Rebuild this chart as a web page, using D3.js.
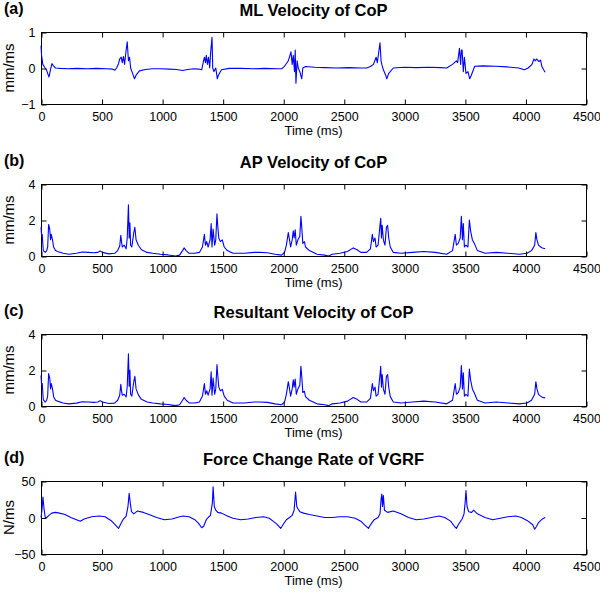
<!DOCTYPE html>
<html>
<head>
<meta charset="utf-8">
<script src="https://cdn.jsdelivr.net/npm/d3@7"></script>
<style>
  html, body { margin: 0; padding: 0; background: #fff; }
  svg { display: block; }
  text { font-family: "Liberation Sans", Arial, Helvetica, sans-serif; fill: #000; }
</style>
</head>
<body>
<svg id="chart" width="600" height="594"></svg>
<script>
// ---------------- DATA ----------------
const xTicks = [0, 500, 1000, 1500, 2000, 2500, 3000, 3500, 4000, 4500];
const xDomain = [0, 4500];
const xTitle = "Time (ms)";

const panelLabels = ["(a)", "(b)", "(c)", "(d)"];
const panelTitles = ["ML Velocity of CoP", "AP Velocity of CoP", "Resultant Velocity of CoP", "Force Change Rate of VGRF"];
const yTitles = ["mm/ms", "mm/ms", "mm/ms", "N/ms"];
const yDomains = [[-1, 1], [0, 4], [0, 4], [-50, 50]];
const yTicksList = [[-1, 0, 1], [0, 2, 4], [0, 2, 4], [-50, 0, 50]];

// (a) ML velocity of CoP
const mlTime = [0,5,15,30,45,55,66,78,90,105,120,160,220,300,380,460,540,590,610,624,640,650,662,671,681,690,703,712,722,731,740,756,772,785,813,860,920,986,1060,1120,1170,1210,1260,1300,1327,1333,1349,1358,1365,1374,1383,1393,1400,1412,1418,1428,1443,1456,1465,1490,1554,1650,1750,1850,1950,1990,2011,2042,2064,2074,2083,2093,2099,2105,2115,2124,2137,2153,2162,2184,2260,2342,2440,2540,2640,2688,2720,2745,2767,2777,2789,2799,2808,2814,2827,2846,2855,2871,2909,3000,3100,3200,3300,3350,3398,3430,3440,3455,3465,3471,3477,3487,3496,3509,3525,3540,3553,3581,3650,3755,3850,3944,3991,4022,4054,4070,4080,4092,4112,4125,4135,4150,4163];
const mlVel = [0.62,0.35,0.1,0.02,-0.05,-0.15,-0.25,-0.05,0.12,0.05,0.0,-0.01,-0.02,-0.01,-0.02,-0.01,-0.02,-0.03,-0.06,0.0,0.12,0.25,0.3,0.15,0.32,0.1,0.5,0.73,0.2,0.3,0.0,-0.15,-0.3,-0.2,-0.08,-0.04,-0.02,-0.02,-0.03,-0.04,-0.07,-0.04,-0.02,-0.03,-0.05,0.05,0.3,0.15,0.35,0.1,0.3,0.0,0.4,0.85,0.0,-0.1,0.0,-0.3,-0.2,-0.05,-0.01,-0.01,-0.02,-0.01,-0.02,-0.02,0.05,0.2,0.45,0.1,0.35,-0.1,0.5,-0.42,0.2,0.0,-0.1,-0.3,0.0,0.04,0.02,0.01,0.0,0.01,0.0,0.0,0.04,0.1,0.3,0.15,0.45,0.7,0.2,0.1,-0.05,-0.2,-0.3,-0.15,0.0,0.02,0.01,0.02,0.01,0.0,0.1,0.2,0.15,0.55,0.1,0.5,0.5,-0.1,0.3,-0.15,-0.1,-0.3,-0.2,0.05,0.06,0.05,0.03,0.0,-0.05,0.0,0.1,0.25,0.2,0.25,0.18,0.22,0.05,-0.05,-0.12];

// (b) AP velocity of CoP
const apTime = [0,5,10,19,35,47,55,63,72,79,85,95,104,120,136,183,230,293,340,388,435,470,488,507,561,608,633,650,659,665,671,687,703,712,722,728,734,740,750,766,775,785,804,829,876,923,986,1049,1081,1112,1144,1169,1182,1198,1223,1270,1308,1333,1349,1358,1368,1380,1396,1405,1412,1421,1434,1443,1453,1459,1468,1481,1497,1513,1538,1585,1680,1760,1806,1869,1932,1986,2011,2026,2042,2052,2061,2074,2083,2090,2099,2108,2121,2137,2146,2153,2162,2175,2184,2216,2279,2342,2374,2405,2468,2531,2578,2610,2641,2688,2720,2736,2745,2758,2767,2783,2799,2805,2811,2817,2827,2840,2852,2862,2871,2884,2909,2972,3066,3161,3255,3350,3398,3420,3430,3445,3461,3471,3480,3487,3496,3509,3525,3537,3547,3562,3578,3603,3666,3760,3855,3950,4013,4050,4076,4086,4095,4108,4125,4140,4163];
const apVel = [1.6,1.15,1.2,0.3,0.2,0.3,0.5,1.75,1.5,0.9,1.2,0.9,0.5,0.3,0.25,0.15,0.1,0.15,0.22,0.2,0.18,0.2,0.28,0.2,0.12,0.15,0.3,0.55,1.15,0.8,0.5,0.6,0.4,1.0,2.85,1.0,1.85,0.6,0.5,1.3,1.6,0.9,0.6,0.35,0.2,0.15,0.1,0.06,0.03,0.0,0.05,0.3,0.45,0.3,0.15,0.15,0.2,0.5,1.2,0.6,0.8,0.5,0.9,1.8,0.5,1.5,0.6,0.9,2.35,1.7,1.0,0.8,0.9,0.5,0.3,0.15,0.15,0.2,0.2,0.18,0.1,0.05,0.2,0.6,1.3,0.9,0.5,0.9,1.4,1.0,1.45,0.6,0.9,1.1,2.2,1.6,0.7,0.8,0.5,0.3,0.1,0.05,0.0,0.1,0.15,0.25,0.45,0.35,0.2,0.2,0.4,1.2,0.8,1.0,0.5,0.6,1.7,2.1,1.0,1.7,0.9,0.6,1.6,1.7,1.0,0.5,0.2,0.15,0.2,0.25,0.2,0.1,0.3,1.2,0.6,0.7,1.0,2.2,0.9,1.8,0.5,0.6,0.5,2.0,1.4,0.9,0.7,0.3,0.15,0.2,0.15,0.1,0.15,0.3,0.6,1.3,0.9,0.6,0.5,0.45,0.4];

// (c) Resultant velocity of CoP
const resTime = [0,5,10,19,35,47,55,63,72,79,85,95,104,120,136,183,230,293,340,388,435,470,488,507,561,608,633,650,659,665,671,687,703,712,722,728,734,740,750,766,775,785,804,829,876,923,986,1049,1081,1112,1144,1169,1182,1198,1223,1270,1308,1333,1349,1358,1368,1380,1396,1405,1412,1421,1434,1443,1453,1459,1468,1481,1497,1513,1538,1585,1680,1760,1806,1869,1932,1986,2011,2026,2042,2052,2061,2074,2083,2090,2099,2108,2121,2137,2146,2153,2162,2175,2184,2216,2279,2342,2374,2405,2468,2531,2578,2610,2641,2688,2720,2736,2745,2758,2767,2783,2799,2805,2811,2817,2827,2840,2852,2862,2871,2884,2909,2972,3066,3161,3255,3350,3398,3420,3430,3445,3461,3471,3480,3487,3496,3509,3525,3537,3547,3562,3578,3603,3666,3760,3855,3950,4013,4050,4076,4086,4095,4108,4125,4140,4163];
const resVel = [1.7,1.2,1.25,0.35,0.22,0.32,0.55,1.8,1.55,0.95,1.25,0.95,0.52,0.32,0.27,0.17,0.12,0.16,0.24,0.22,0.2,0.22,0.3,0.22,0.14,0.16,0.32,0.6,1.2,0.85,0.6,0.65,0.5,1.1,2.9,1.1,2.0,0.65,0.55,1.35,1.65,0.95,0.62,0.37,0.22,0.17,0.12,0.08,0.05,0.02,0.07,0.32,0.47,0.32,0.17,0.17,0.22,0.55,1.25,0.65,0.85,0.6,0.95,1.9,0.6,1.55,0.65,0.95,2.3,1.75,1.05,0.85,0.92,0.55,0.32,0.17,0.17,0.22,0.22,0.2,0.12,0.07,0.22,0.65,1.35,0.95,0.55,0.95,1.45,1.05,1.5,0.65,0.95,1.15,2.2,1.65,0.75,0.82,0.52,0.32,0.12,0.07,0.02,0.12,0.17,0.27,0.47,0.37,0.22,0.22,0.42,1.25,0.85,1.05,0.55,0.65,1.75,2.2,1.05,1.75,0.95,0.65,1.65,1.75,1.05,0.52,0.22,0.17,0.22,0.27,0.22,0.12,0.32,1.25,0.65,0.75,1.05,2.25,0.95,1.85,0.55,0.65,0.55,2.05,1.45,0.95,0.72,0.32,0.17,0.22,0.17,0.12,0.17,0.32,0.65,1.35,0.95,0.65,0.55,0.48,0.45];

// (d) Force change rate of VGRF
const fcTime = [0,8,16,25,35,47,66,88,120,151,199,246,293,325,356,419,482,529,577,608,640,655,677,703,718,728,737,747,766,797,845,892,955,1018,1081,1144,1175,1223,1270,1301,1327,1343,1365,1380,1399,1415,1421,1431,1443,1459,1491,1538,1585,1648,1711,1774,1837,1885,1916,1948,1979,2002,2026,2052,2074,2090,2102,2112,2121,2137,2168,2216,2279,2342,2405,2468,2531,2594,2641,2672,2704,2720,2751,2783,2799,2808,2814,2820,2827,2836,2862,2909,2972,3035,3098,3161,3224,3287,3334,3382,3413,3430,3445,3477,3493,3502,3509,3518,3531,3556,3572,3603,3666,3729,3792,3855,3918,3966,4013,4060,4076,4092,4108,4140,4163];
const fcRate = [0,10,28,12,0,0,3,6,7,6,4,0,-3,-5,-2,1,2,1,-4,-9,-15,-10,-3,2,15,33,20,8,5,9,7,4,0,-3,-2,1,2,1,-3,-8,-14,-12,-3,0,3,20,42,15,10,7,6,2,-1,-3,-2,0,1,-1,-5,-9,-15,-9,-3,0,3,10,35,15,12,8,6,4,2,0,0,1,1,-1,-5,-10,-15,-10,-3,0,5,25,32,15,30,10,7,9,5,0,-3,-2,0,2,0,-5,-12,-15,-10,-2,5,20,37,15,8,7,10,5,0,-3,-1,1,2,0,-4,-10,-16,-12,-7,-2,0];

const seriesTimes = [mlTime, apTime, resTime, fcTime];
const seriesValues = [mlVel, apVel, resVel, fcRate];

// ---------------- LAYOUT ----------------
const plotLeft = 41, plotRight = 586;
const plotTops = [32, 184, 334, 481];
const plotHeights = [72, 72, 72, 73];
const tickLen = 5;

const svg = d3.select("#chart");
const x = d3.scaleLinear().domain(xDomain).range([plotLeft, plotRight]);

seriesTimes.forEach((times, i) => {
  const top = plotTops[i], h = plotHeights[i], bottom = top + h;
  const y = d3.scaleLinear().domain(yDomains[i]).range([bottom, top]);
  const g = svg.append("g");

  // box
  g.append("rect")
    .attr("x", plotLeft + 0.5).attr("y", top + 0.5)
    .attr("width", plotRight - plotLeft).attr("height", h)
    .attr("fill", "#fff").attr("stroke", "#000").attr("stroke-width", 1);

  // data line
  const pts = times.map((t, k) => [t, seriesValues[i][k]]);
  g.append("path")
    .datum(pts)
    .attr("fill", "none")
    .attr("stroke", "#0000ff")
    .attr("stroke-width", 1.1)
    .attr("stroke-linejoin", "round")
    .attr("d", d3.line().x(d => x(d[0])).y(d => y(d[1])));

  // bottom axis (inward ticks)
  const bx = g.append("g").attr("transform", `translate(0.5,${bottom + 0.5})`)
    .call(d3.axisBottom(x).tickValues(xTicks).tickSizeInner(-tickLen).tickSizeOuter(0).tickPadding(8).tickFormat(d3.format("d")));
  // top axis (ticks only)
  const tx = g.append("g").attr("transform", `translate(0.5,${top + 0.5})`)
    .call(d3.axisTop(x).tickValues(xTicks).tickSizeInner(-tickLen).tickSizeOuter(0).tickFormat(""));
  // left axis
  const lx = g.append("g").attr("transform", `translate(${plotLeft + 0.5},0.5)`)
    .call(d3.axisLeft(y).tickValues(yTicksList[i]).tickSizeInner(-tickLen).tickSizeOuter(0).tickPadding(6).tickFormat(d3.format("d")));
  // right axis
  const rx = g.append("g").attr("transform", `translate(${plotRight + 0.5},0.5)`)
    .call(d3.axisRight(y).tickValues(yTicksList[i]).tickSizeInner(-tickLen).tickSizeOuter(0).tickFormat(""));

  [bx, tx, lx, rx].forEach(a => {
    a.select(".domain").remove();
    a.selectAll("line").attr("stroke", "#000");
    a.selectAll("text").attr("font-size", "12.5px").attr("font-family", "'Liberation Sans', Arial, sans-serif").attr("fill", "#000");
  });

  // titles
  svg.append("text")
    .attr("x", (plotLeft + plotRight) / 2).attr("y", top - 16)
    .attr("text-anchor", "middle").attr("font-weight", "bold").attr("font-size", "16.5px")
    .text(panelTitles[i]);
  svg.append("text")
    .attr("x", 4).attr("y", top - 18)
    .attr("font-weight", "bold").attr("font-size", "16px")
    .text(panelLabels[i]);

  // y title
  svg.append("text")
    .attr("transform", `translate(14,${(top + bottom) / 2}) rotate(-90)`)
    .attr("text-anchor", "middle").attr("font-size", "15px")
    .text(yTitles[i]);

  // x title
  svg.append("text")
    .attr("x", (plotLeft + plotRight) / 2).attr("y", bottom + 31)
    .attr("text-anchor", "middle").attr("font-size", "13px")
    .text(xTitle);
});
</script>
</body>
</html>
